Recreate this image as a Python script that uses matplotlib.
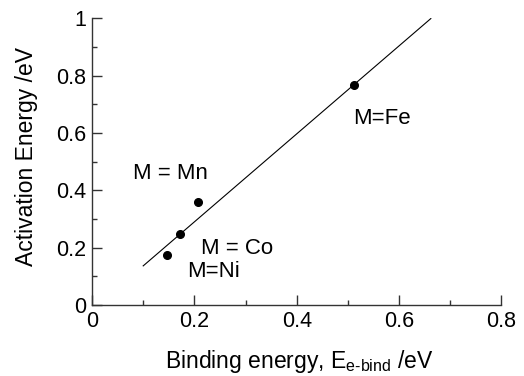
import matplotlib
matplotlib.use("Agg")
import matplotlib.pyplot as plt
import numpy as np

plt.rcParams['font.family'] = ['Liberation Sans', 'DejaVu Sans']
plt.rcParams['mathtext.fontset'] = 'custom'
plt.rcParams['mathtext.rm'] = 'Liberation Sans'
plt.rcParams['mathtext.it'] = 'Liberation Sans'

# binding energy (eV) and activation energy (eV) for each metal
metals = ["Fe", "Mn", "Co", "Ni"]
binding = [0.512, 0.208, 0.172, 0.146]
activation = [0.767, 0.358, 0.248, 0.174]

# linear fit drawn over this range
fit_slope = 1.535
fit_intercept = -0.017
fit_range = [0.100, 0.662]

labels = ["M=Fe", "M = Mn", "M = Co", "M=Ni"]
label_pos = [(0.511, 0.630), (0.081, 0.439), (0.213, 0.177), (0.185, 0.0986)]

fig = plt.figure(figsize=(5.24, 3.76), dpi=100)
ax = fig.add_axes([0.1756, 0.1888, 0.7814, 0.7625])

xf = np.array(fit_range)
ax.plot(xf, fit_slope * xf + fit_intercept, color='black', lw=0.8)
ax.plot(binding, activation, 'o', color='black', ms=5.5, zorder=3)

for lab, (lx, ly) in zip(labels, label_pos):
    ax.text(lx, ly, lab, fontsize=16, ha='left', va='baseline')

ax.set_xlim(0, 0.8)
ax.set_ylim(0, 1)
ax.set_xticks([0, 0.2, 0.4, 0.6, 0.8])
ax.set_xticklabels(["0", "0.2", "0.4", "0.6", "0.8"])
ax.set_yticks([0, 0.2, 0.4, 0.6, 0.8, 1])
ax.set_yticklabels(["0", "0.2", "0.4", "0.6", "0.8", "1"])
ax.set_xticks(np.arange(0.1, 0.8, 0.2), minor=True)
ax.set_yticks(np.arange(0.1, 1.0, 0.2), minor=True)

for side in ("top", "right"):
    ax.spines[side].set_visible(False)
for side in ("left", "bottom"):
    ax.spines[side].set_linewidth(1.0)
    ax.spines[side].set_color('#333333')

ax.tick_params(which='major', direction='in', length=7, width=1.0,
               labelsize=15.5, color='#333333')
ax.tick_params(which='minor', direction='in', length=3.5, width=1.0,
               color='#333333')
ax.tick_params(axis='x', which='major', pad=4)
ax.tick_params(axis='y', which='major', pad=4)

ax.set_xlabel("Binding energy, E$_{\\text{e-bind}}$ /eV", fontsize=16.5)
ax.xaxis.label.set_verticalalignment('baseline')
ax.xaxis.set_label_coords(0.506, -0.2195)

ax.set_ylabel("Activation Energy /eV", fontsize=16.5)
ax.yaxis.label.set_verticalalignment('baseline')
ax.yaxis.set_label_coords(-0.144, 0.519)

fig.savefig("out.png", dpi=100)
